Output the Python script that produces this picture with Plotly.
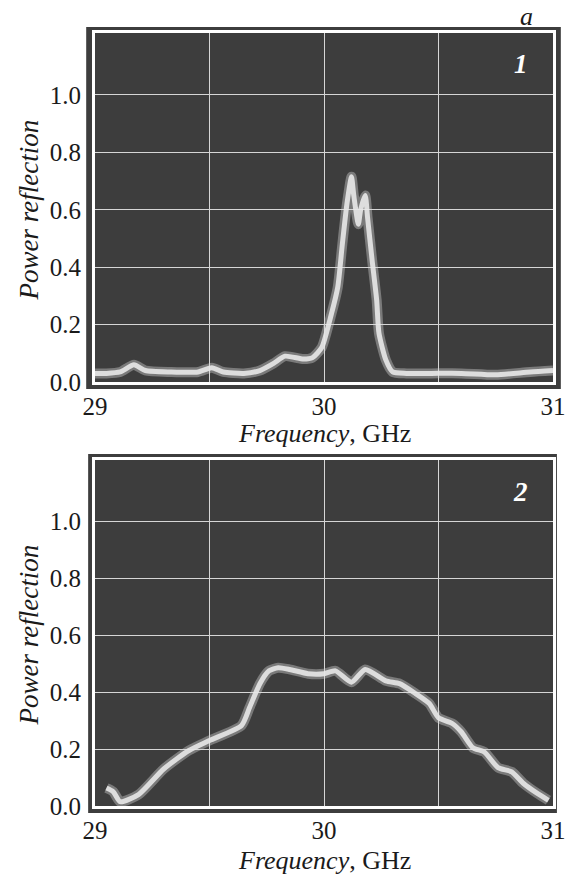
import plotly.graph_objects as go
from plotly.subplots import make_subplots

# ---- data ----
top_freq = [29.00, 29.05, 29.11, 29.17, 29.22, 29.33, 29.45, 29.51, 29.56, 29.65,
            29.72, 29.78, 29.83, 29.91, 29.95, 29.99, 30.03, 30.06, 30.08, 30.10,
            30.12, 30.13, 30.15, 30.16, 30.18, 30.19, 30.21, 30.23, 30.24, 30.27,
            30.30, 30.36, 30.47, 30.60, 30.75, 30.90, 31.00]
top_refl = [0.030, 0.030, 0.035, 0.060, 0.040, 0.035, 0.035, 0.050, 0.035, 0.030,
            0.040, 0.065, 0.090, 0.080, 0.085, 0.120, 0.230, 0.330, 0.480, 0.620,
            0.715, 0.650, 0.550, 0.600, 0.650, 0.575, 0.425, 0.285, 0.170, 0.077,
            0.035, 0.030, 0.030, 0.030, 0.025, 0.035, 0.040]

bottom_freq = [29.05, 29.08, 29.11, 29.19, 29.30, 29.41, 29.50, 29.64, 29.675, 29.72,
               29.76, 29.80, 29.85, 29.93, 30.00, 30.05, 30.12, 30.18, 30.27, 30.33,
               30.40, 30.46, 30.50, 30.56, 30.60, 30.65, 30.70, 30.76, 30.82, 30.87,
               30.93, 30.98]
bottom_refl = [0.063, 0.050, 0.015, 0.040, 0.130, 0.195, 0.230, 0.283, 0.346, 0.430,
               0.475, 0.486, 0.480, 0.465, 0.465, 0.475, 0.435, 0.480, 0.440, 0.430,
               0.395, 0.360, 0.310, 0.290, 0.260, 0.205, 0.190, 0.135, 0.120, 0.080,
               0.045, 0.020]

x_tickvals = [29, 29.5, 30, 30.5, 31]
x_ticktext = ["29", "", "30", "", "31"]
y_tickvals = [0.0, 0.2, 0.4, 0.6, 0.8, 1.0]
y_ticktext = ["0.0", "0.2", "0.4", "0.6", "0.8", "1.0"]
panel_labels = ["1", "2"]

# ---- figure ----
OFF = 8  # page body margin
W, H = 578 - OFF, 875 - OFF
ml, mt = 95 - OFF, 33 - OFF
pw, ph = 468, 773
mr = W - ml - pw
mb = H - mt - ph
top_dom = [(806 - 382) / ph, 1.0]
bot_dom = [0.0, (806 - 460) / ph]

fig = make_subplots(rows=2, cols=1)
BG = "#3d3d3d"
FONT = "Liberation Serif, Times New Roman, serif"
TXT = "#1a1a1a"

series = [(top_freq, top_refl, 1), (bottom_freq, bottom_refl, 2)]
for fx, fy, r in series:
    fig.add_trace(go.Scatter(x=fx, y=fy, mode="lines",
                             line=dict(color="rgba(215,215,215,0.4)", width=10, shape="spline", smoothing=0.6),
                             hoverinfo="skip", showlegend=False), row=r, col=1)
    fig.add_trace(go.Scatter(x=fx, y=fy, mode="lines",
                             line=dict(color="rgba(232,232,232,0.9)", width=5, shape="spline", smoothing=0.6),
                             showlegend=False), row=r, col=1)

axis_common = dict(showline=True, mirror=True, linecolor="white", linewidth=3,
                   showgrid=True, gridcolor="#d6d6d6", gridwidth=1.2, zeroline=False,
                   ticks="", tickfont=dict(family=FONT, size=25, color=TXT))
for r, dom in [(1, top_dom), (2, bot_dom)]:
    fig.update_xaxes(range=[29, 31], tickvals=x_tickvals, ticktext=x_ticktext,
                     ticklabelstandoff=0, **axis_common, row=r, col=1)
    fig.update_yaxes(range=[0, 1.216], tickvals=y_tickvals, ticktext=y_ticktext,
                     domain=dom, ticklabelstandoff=6, **axis_common, row=r, col=1)

# dark backgrounds extending past the white frame
fig.add_shape(type="rect", xref="paper", yref="paper", layer="below",
              x0=(86 - 95) / pw, x1=(571 - 95) / pw, y0=(806 - 389) / ph, y1=(806 - 27) / ph,
              fillcolor=BG, line=dict(width=0))
fig.add_shape(type="rect", xref="paper", yref="paper", layer="below",
              x0=(88 - 95) / pw, x1=(567 - 95) / pw, y0=(806 - 813) / ph, y1=(806 - 454) / ph,
              fillcolor=BG, line=dict(width=0))

ann = []
for yc in [(806 - 210) / ph, (806 - 635) / ph]:
    ann.append(dict(text="<i>Power reflection</i>", xref="paper", yref="paper",
                    x=(28 - 95) / pw, y=yc, textangle=-90, showarrow=False,
                    font=dict(family=FONT, size=27, color=TXT),
                    xanchor="center", yanchor="middle"))
for yc in [(806 - 433) / ph, (806 - 860) / ph]:
    ann.append(dict(text="<i>Frequency</i>, GHz", xref="paper", yref="paper",
                    x=(329 - 95) / pw, y=yc, showarrow=False,
                    font=dict(family=FONT, size=26, color=TXT),
                    xanchor="center", yanchor="middle"))
for lab, yc in zip(panel_labels, [(806 - 64) / ph, (806 - 492) / ph]):
    ann.append(dict(text="<b><i>" + lab + "</i></b>", xref="paper", yref="paper",
                    x=(530 - 95) / pw, y=yc, showarrow=False,
                    font=dict(family=FONT, size=27, color="white"),
                    xanchor="center", yanchor="middle"))
ann.append(dict(text="<i>a</i>", xref="paper", yref="paper",
                x=(536 - 95) / pw, y=(806 - 17) / ph, showarrow=False,
                font=dict(family=FONT, size=26, color=TXT),
                xanchor="center", yanchor="middle"))

fig.update_layout(width=W, height=H, margin=dict(l=ml, r=mr, t=mt, b=mb),
                  paper_bgcolor="white", plot_bgcolor=BG, annotations=ann,
                  showlegend=False)

fig.write_html("out.html")
